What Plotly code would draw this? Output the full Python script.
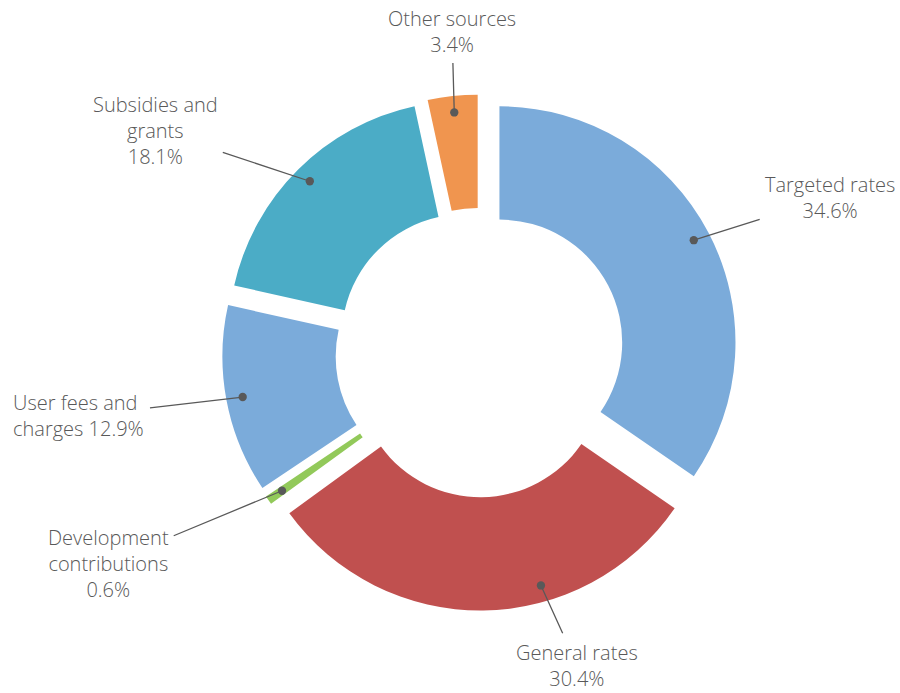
import math
import plotly.graph_objects as go

# Revenue sources, clockwise from 12 o'clock
labels = ["Targeted rates", "General rates", "Development contributions",
          "User fees and charges", "Subsidies and grants", "Other sources"]
shares = [34.6, 30.4, 0.6, 12.9, 18.1, 3.4]
label_text = ["Targeted rates<br>34.6%", "General rates<br>30.4%",
              "Development<br>contributions<br>0.6%", "User fees and<br>charges 12.9%",
              "Subsidies and<br>grants<br>18.1%", "Other sources<br>3.4%"]
colors = ["#7BABDA", "#C0504F", "#92C95A", "#7BABDA", "#4BACC6", "#F0954F"]

# Layout / styling
W, H = 900, 693
DOM_X = [0.2467, 0.8200]
DOM_Y = [0.1190, 0.8636]
HOLE = 0.52
PULL = 0.093
DOT_R = 0.93            # leader-dot distance from the (pulled) slice centre, as a fraction of radius
anchor_frac = [0.5, 0.36, 0.5, 0.5, 0.5, 0.5]   # where along each slice the leader dot sits
label_pos = [(830, 197), (577, 665), (108, 563), (79, 416), (155, 130), (452, 31)]
label_align = ["center", "center", "center", "left", "center", "center"]
TEXT = "#595959"
FONT = "Open Sans"

fig = go.Figure(go.Pie(
    labels=labels, values=shares, sort=False, direction="clockwise", rotation=0,
    hole=HOLE, pull=PULL, textinfo="none", hoverinfo="label+percent",
    marker=dict(colors=colors, line=dict(width=0)),
    domain=dict(x=DOM_X, y=DOM_Y), showlegend=False,
))

# Same geometry plotly uses for the pie, to attach the leader lines
bw = W * (DOM_X[1] - DOM_X[0])
bh = H * (DOM_Y[1] - DOM_Y[0])
R = min(bw, bh) / 2 / (1 + PULL)
cx = W * (DOM_X[0] + DOM_X[1]) / 2
cy = H * (1 - DOM_Y[0]) - bh / 2

total = sum(shares)
start = 0.0
for i, v in enumerate(shares):
    a0 = start / total * 360
    a1 = (start + v) / total * 360
    start += v
    mid = math.radians((a0 + a1) / 2)
    anc = math.radians(a0 + (a1 - a0) * anchor_frac[i])
    pcx = cx + PULL * R * math.sin(mid)
    pcy = cy - PULL * R * math.cos(mid)
    dx = pcx + DOT_R * R * math.sin(anc)
    dy = pcy - DOT_R * R * math.cos(anc)
    lx, ly = label_pos[i]
    fig.add_annotation(
        x=dx / W, y=1 - dy / H, xref="paper", yref="paper",
        ax=lx - dx, ay=ly - dy, axref="pixel", ayref="pixel",
        text=label_text[i], showarrow=True, arrowhead=6, arrowsize=1.6,
        arrowwidth=1.3, arrowcolor=TEXT, standoff=0, startstandoff=4,
        font=dict(family=FONT, size=20, color=TEXT, weight=300), align=label_align[i],
    )

fig.update_layout(
    width=W, height=H, margin=dict(l=0, r=0, t=0, b=0),
    paper_bgcolor="white", plot_bgcolor="white",
    font=dict(family=FONT, color=TEXT),
)
fig.write_html("out.html")
